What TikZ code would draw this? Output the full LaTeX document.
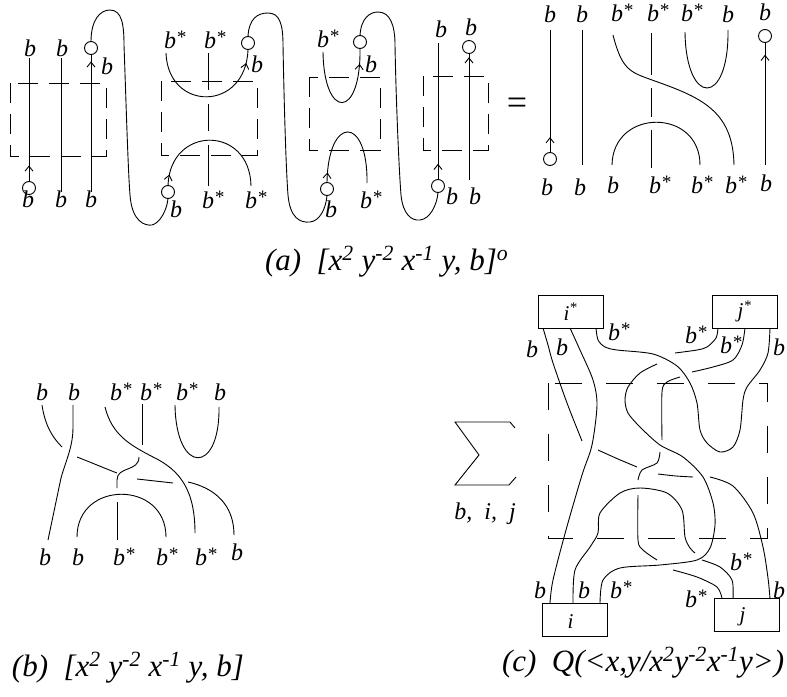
\documentclass[tikz,border=0pt]{standalone}
\usepackage{fontspec}
\setmainfont{Liberation Serif}
\usetikzlibrary{arrows.meta,decorations.markings}
\newcommand{\bstar}{b\rlap{\raisebox{5pt}{\fontsize{19}{19}\selectfont *}}}
\newcommand{\lblfont}{\fontsize{24}{27}\selectfont\itshape}
\newcommand{\capfont}{\fontsize{31}{34}\selectfont\itshape}
\begin{document}
\begin{tikzpicture}[x=1pt,y=-1pt,inner sep=0pt,outer sep=0pt,line width=0.9pt,
lab/.style={anchor=base,font=\lblfont},
capt/.style={anchor=base west,font=\capfont},
knob/.style={draw,circle,minimum size=13pt},
dashbox/.style={dash pattern=on 20pt off 11pt},
bigdash/.style={dash pattern=on 27pt off 24pt},
cbox/.style={draw,rectangle,minimum width=65pt,minimum height=33pt,font=\fontsize{21}{23}\selectfont\itshape},
flow/.style={postaction={decorate},decoration={markings,mark=at position #1 with {\arrow{Straight Barb[length=5pt,width=8pt]}}}}]
\useasboundingbox (0,0) rectangle (787,696);
% (a)
\draw (29,188) node[knob] (c1) {};
\draw (91,48) node[knob] (c2) {};
\draw (168,192) node[knob] (c3) {};
\draw (248,43) node[knob] (c4) {};
\draw (327,189) node[knob] (c5) {};
\draw (360,42) node[knob] (c6) {};
\draw (438,186) node[knob] (c7) {};
\draw (469,47) node[knob] (c8) {};
\draw (550,159) node[knob] (c9) {};
\draw (765,36) node[knob] (c10) {};

\draw[dashbox] (10,83) rectangle (106,156);
\draw[dashbox] (161,81) rectangle (257,155);
\draw[dashbox] (309,77) rectangle (380,150);
\draw[dashbox] (423,76) rectangle (488,150);

\draw[flow=0.13] (c1) -- (29,58);
\draw (61,58) -- (61,192);
\draw[flow=0.95] (91,192) -- (c2);
\draw (c2.north) .. controls (91,20) and (100,10) .. (110,10) .. controls (122,10) and (124,25) .. (124,45) .. controls (126,100) and (128,170) .. (130,195) .. controls (132,222) and (145,226) .. (152,225) .. controls (160,223) and (167,210) .. (c3.south);

\draw[flow=0.9] (166,53) .. controls (168,112) and (246,112) .. (c4.south);
\draw (208,53) -- (208,90);
\draw (208,104) -- (208,131);
\draw (208,145) -- (208,186);
\draw[flow=0.08] (c3.north) .. controls (170,125) and (250,125) .. (251,186);
\draw (c4.north) .. controls (249,18) and (258,13) .. (268,13) .. controls (280,13) and (283,25) .. (283,45) .. controls (284,100) and (286,170) .. (288,195) .. controls (290,218) and (300,223) .. (310,222) .. controls (320,221) and (326,208) .. (c5.south);

\draw[flow=0.87] (323,52) .. controls (324,120) and (361,120) .. (c6.south);
\draw[flow=0.085] (c5.north) .. controls (328,115) and (368,115) .. (367,183);
\draw (c6.north) .. controls (361,18) and (370,12) .. (378,12) .. controls (390,12) and (395,25) .. (395,45) .. controls (396,100) and (399,170) .. (401,195) .. controls (403,215) and (412,221) .. (420,220) .. controls (430,219) and (437,205) .. (c7.south);

\draw[flow=0.115] (c7) -- (438,43);
\draw[flow=0.97] (469,180) -- (c8);

\draw (517,106) node[font=\fontsize{36}{36}\selectfont] (eq) {=};

\draw[flow=0.125] (c9) -- (550,30);
\draw (582,30) -- (582,165);
\draw (613,35) .. controls (622,70) and (630,72) .. (652,80) .. controls (700,97) and (733,110) .. (734,165);
\draw (651,33) -- (651,75);
\draw (651,88) -- (651,117);
\draw (651,130) -- (651,168);
\draw (612,165) .. controls (613,108) and (700,108) .. (700,165);
\draw (685,32) .. controls (686,107) and (729,107) .. (728,30);
\draw[flow=0.9] (765,165) -- (c10);

\node[lab] (ta1) at (30,56) {b};
\node[lab] (ta2) at (62,56) {b};
\node[lab] (ta3) at (107,74) {b};
\node[lab] (ta4) at (170,48) {\bstar};
\node[lab] (ta5) at (210,48) {\bstar};
\node[lab] (ta6) at (257,72) {b};
\node[lab] (ta7) at (323,47) {\bstar};
\node[lab] (ta8) at (371,72) {b};
\node[lab] (ta9) at (441,37) {b};
\node[lab] (ta10) at (471,35) {b};
\node[lab] (ta11) at (550,23) {b};
\node[lab] (ta12) at (582,23) {b};
\node[lab] (ta13) at (617,21) {\bstar};
\node[lab] (ta14) at (653,21) {\bstar};
\node[lab] (ta15) at (687,21) {\bstar};
\node[lab] (ta16) at (728,23) {b};
\node[lab] (ta17) at (765,20) {b};
\node[lab] (ba1) at (28,207) {b};
\node[lab] (ba2) at (61,207) {b};
\node[lab] (ba3) at (91,207) {b};
\node[lab] (ba4) at (176,217) {b};
\node[lab] (ba5) at (208,208) {\bstar};
\node[lab] (ba6) at (251,208) {\bstar};
\node[lab] (ba7) at (331,217) {b};
\node[lab] (ba8) at (366,208) {\bstar};
\node[lab] (ba9) at (452,204) {b};
\node[lab] (ba10) at (475,204) {b};
\node[lab] (ba11) at (547,195) {b};
\node[lab] (ba12) at (580,195) {b};
\node[lab] (ba13) at (613,193) {b};
\node[lab] (ba14) at (655,193) {\bstar};
\node[lab] (ba15) at (697,193) {\bstar};
\node[lab] (ba16) at (731,193) {\bstar};
\node[lab] (ba17) at (766,191) {b};
\node[capt] (capa) at (265,270) {(a)\ \ [x\textsuperscript{2} y\textsuperscript{-2} x\textsuperscript{-1} y, b]\textsuperscript{o}};

% (b)
\draw (42,405) .. controls (45,425) and (52,437) .. (62,447);
\draw (77,457) .. controls (90,462) and (104,468) .. (117,473);
\draw (137,479) -- (173,483);
\draw (188,482) .. controls (215,488) and (234,505) .. (234,535);
\draw (73,405) -- (73,427) .. controls (73,447) and (66,460) .. (61,478) -- (48,540);
\draw (105,407) .. controls (112,435) and (130,445) .. (153,457) .. controls (180,470) and (195,490) .. (195,533);
\draw (142,404) -- (142,445);
\draw (139,457) .. controls (139,472) and (117,466) .. (117,480) -- (117,488);
\draw (117,502) -- (117,540);
\draw (77,537) .. controls (77,480) and (166,480) .. (166,537);
\draw (175,405) .. controls (176,475) and (220,475) .. (219,407);
\node[lab] (tb1) at (42,400) {b};
\node[lab] (tb2) at (74,400) {b};
\node[lab] (tb3) at (116,400) {\bstar};
\node[lab] (tb4) at (146,400) {\bstar};
\node[lab] (tb5) at (182,400) {\bstar};
\node[lab] (tb6) at (220,400) {b};
\node[lab] (bb1) at (45,565) {b};
\node[lab] (bb2) at (78,565) {b};
\node[lab] (bb3) at (119,565) {\bstar};
\node[lab] (bb4) at (162,565) {\bstar};
\node[lab] (bb5) at (201,565) {\bstar};
\node[lab] (bb6) at (237,560) {b};
\node[capt] (capb) at (12,676) {(b)\ \ [x\textsuperscript{2} y\textsuperscript{-2} x\textsuperscript{-1} y, b]};

% (c)
\draw (570.5,311.5) node[cbox] (istar) {i\textsuperscript{*}};
\draw (744.5,311.5) node[cbox] (jstar) {j\textsuperscript{*}};
\draw (574.5,619.5) node[cbox] (ibox) {i\phantom{\textsuperscript{*}}};
\draw (746.5,615) node[cbox] (jbox) {j\phantom{\textsuperscript{*}}};
\coordinate (is1) at ([xshift=5pt]istar.south west);
\coordinate (is2) at ([xshift=32pt]istar.south west);
\coordinate (is3) at ([xshift=58pt]istar.south west);
\coordinate (js1) at ([xshift=6pt]jstar.south west);
\coordinate (js2) at ([xshift=33pt]jstar.south west);
\coordinate (js3) at ([xshift=58pt]jstar.south west);
\coordinate (ib1) at ([xshift=8pt]ibox.north west);
\coordinate (ib2) at ([xshift=31pt]ibox.north west);
\coordinate (ib3) at ([xshift=58pt]ibox.north west);
\coordinate (jb1) at ([xshift=8pt]jbox.north west);
\coordinate (jb2) at ([xshift=19pt]jbox.north west);
\coordinate (jb3) at ([xshift=56pt]jbox.north west);

\draw[bigdash] (548,383) rectangle (767,538);

\draw plot[smooth] coordinates {(is1) (548,345) (553,363) (567,403) (582,441)};
\draw plot[smooth] coordinates {(598,450) (618,459) (637,467)};
\draw plot[smooth] coordinates {(658,474) (676,476) (693,477)};
\draw plot[smooth] coordinates {(710,477) (733,486) (753,513) (763,547) (768,578) (jb3)};
\draw plot[smooth] coordinates {(is2) (580,350) (593,380) (597,405) (592,445) (582,475) (566,530) (553,580) (ib1)};
\draw plot[smooth] coordinates {(is3) (598,340) (605,347) (617,350) (653,354) (677,366) (690,383) (697,403) (700,430) (707,443) (720,452) (733,447) (740,430) (743,400) (747,387) (760,370) (768,353) (js3)};
\draw plot[smooth] coordinates {(js1) (716,338) (707,347) (697,350) (675,353)};
\draw plot[smooth] coordinates {(657,364) (640,373) (628,387) (625,400) (628,413) (640,427) (660,445) (683,457) (703,477) (713,503) (715,525) (710,548) (697,560) (660,565) (620,568) (603,580) (ib3)};
\draw plot[smooth] coordinates {(js2) (742,345) (733,360) (713,367) (692,372)};
\draw plot[smooth] coordinates {(680,377) (667,382) (662,392) (662,440)};
\draw plot[smooth] coordinates {(660,452) (657,463) (642,470) (638,480)};
\draw plot[smooth] coordinates {(638,495) (638,540) (643,550) (657,560)};
\draw plot[smooth] coordinates {(673,570) (697,577) (717,587) (jb1)};
\draw plot[smooth] coordinates {(ib2) (575,570) (590,547) (598,533) (600,513) (620,493) (640,488) (667,493) (682,510) (685,537) (690,548) (695,553)};
\draw plot[smooth] coordinates {(702,560) (720,567) (732,580) (jb2)};

\node[lab] (tc1) at (532,357) {b};
\node[lab] (tc2) at (562,355) {b};
\node[lab] (tc3) at (614,340) {\bstar};
\node[lab] (tc4) at (691,343) {\bstar};
\node[lab] (tc5) at (726,353) {\bstar};
\node[lab] (tc6) at (779,355) {b};
\node[lab] (bc1) at (540,598) {b};
\node[lab] (bc2) at (584,598) {b};
\node[lab] (bc3) at (616,598) {\bstar};
\node[lab] (bc4) at (691,607) {\bstar};
\node[lab] (bc5) at (736,570) {\bstar};
\node[lab] (bc6) at (779,598) {b};

\draw (515,428) -- (510,422) -- (455,422) -- (479,455) -- (455,485) -- (509,485) -- (516,477);
\node[lab] (sumidx) at (485,519) {b,\enspace i,\enspace j};
\node[capt] (capc) at (502,671) {(c)\ \ Q(<x,y/x\textsuperscript{2}y\textsuperscript{-2}x\textsuperscript{-1}y>)};
\end{tikzpicture}
\end{document}
